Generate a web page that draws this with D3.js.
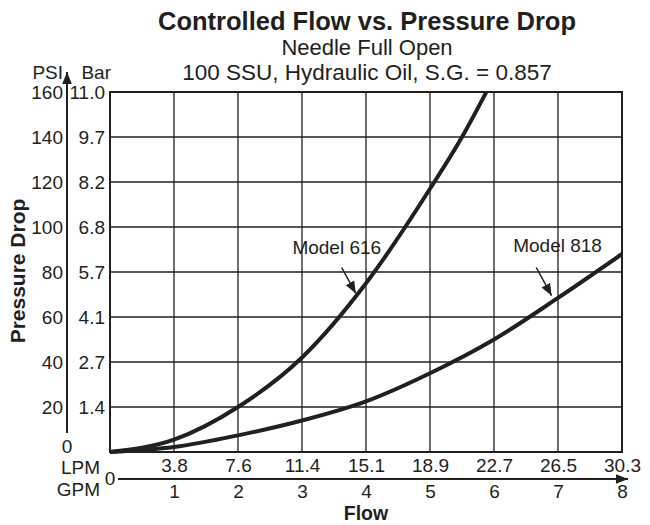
<html>
<head>
<script src="https://d3js.org/d3.v7.min.js"></script>
<style>
  body { margin: 0; padding: 0; background: #fff; }
  text { font-family: "Liberation Sans", Arial, Helvetica, sans-serif; fill: #231f20; }
</style>
</head>
<body>
<script>
// flow in GPM, pressure drop in PSI
var gpmTicks = [1, 2, 3, 4, 5, 6, 7, 8];
var lpmLabels = ["3.8", "7.6", "11.4", "15.1", "18.9", "22.7", "26.5", "30.3"];
var psiTicks = [20, 40, 60, 80, 100, 120, 140, 160];
var barLabels = ["1.4", "2.7", "4.1", "5.7", "6.8", "8.2", "9.7", "11.0"];

var model616Flow = [0, 1, 2, 3, 4, 5, 5.5, 5.88];
var model616Psi  = [0, 5.5, 20, 42, 75, 117, 140, 160];
var model818Flow = [0, 1, 2, 3, 4, 5, 6, 7, 8];
var model818Psi  = [0, 2.2, 7.4, 14, 22.5, 35, 50, 68.5, 88];

var notes = [
  {name: "Model 616", textGpm: 2.85, textPsi: 88, fromGpm: 3.62, fromPsi: 82, toGpm: 3.84, toPsi: 70.5},
  {name: "Model 818", textGpm: 6.3, textPsi: 89, fromGpm: 6.66, fromPsi: 82, toGpm: 6.9, toPsi: 69.5}
];

var width = 650, height = 525;
var fs = "19px";
var svg = d3.select("body").append("svg")
  .attr("width", width).attr("height", height);

var x = d3.scaleLinear().domain([0, 8]).range([110, 622]);
var y = d3.scaleLinear().domain([0, 160]).range([452, 92]);
var ink = "#231f20";

svg.append("defs").append("marker")
  .attr("id", "arr").attr("viewBox", "0 0 10 10")
  .attr("refX", 10).attr("refY", 5)
  .attr("markerWidth", 12).attr("markerHeight", 12)
  .attr("markerUnits", "userSpaceOnUse")
  .attr("orient", "auto")
  .append("path").attr("d", "M0,1L10,5L0,9z").attr("fill", ink);

// titles
svg.append("text").attr("x", 367).attr("y", 30).attr("text-anchor", "middle")
  .style("font-size", "25.5px").style("font-weight", "bold")
  .text("Controlled Flow vs. Pressure Drop");
svg.append("text").attr("x", 367).attr("y", 55).attr("text-anchor", "middle")
  .style("font-size", "22px").text("Needle Full Open");
svg.append("text").attr("x", 367).attr("y", 80).attr("text-anchor", "middle")
  .style("font-size", "22.5px").text("100 SSU, Hydraulic Oil, S.G. = 0.857");

// grid
var grid = svg.append("g").attr("stroke", ink).attr("stroke-width", 1.3);
grid.selectAll(".v").data(gpmTicks.slice(0, 7)).enter().append("line")
  .attr("x1", d => x(d)).attr("x2", d => x(d))
  .attr("y1", y(0)).attr("y2", y(160));
grid.selectAll(".h").data(psiTicks.slice(0, 7)).enter().append("line")
  .attr("x1", x(0)).attr("x2", x(8))
  .attr("y1", d => y(d)).attr("y2", d => y(d));
svg.append("rect").attr("x", x(0)).attr("y", y(160))
  .attr("width", x(8) - x(0)).attr("height", y(0) - y(160))
  .attr("fill", "none").attr("stroke", ink).attr("stroke-width", 2);

// curves
var line = d3.line().x(d => x(d[0])).y(d => y(d[1])).curve(d3.curveMonotoneX);
var curves = [d3.zip(model616Flow, model616Psi), d3.zip(model818Flow, model818Psi)];
svg.selectAll(".curve").data(curves).enter().append("path")
  .attr("d", line).attr("fill", "none")
  .attr("stroke", ink).attr("stroke-width", 4);

// annotations
notes.forEach(function(n) {
  svg.append("text").attr("x", x(n.textGpm)).attr("y", y(n.textPsi))
    .style("font-size", fs).text(n.name);
  svg.append("line")
    .attr("x1", x(n.fromGpm)).attr("y1", y(n.fromPsi))
    .attr("x2", x(n.toGpm)).attr("y2", y(n.toPsi))
    .attr("stroke", ink).attr("stroke-width", 1.5)
    .attr("marker-end", "url(#arr)");
});

function styleTicks(g) {
  g.select(".domain").remove();
  g.selectAll("text").style("font-size", fs).style("font-family", null).attr("fill", ink);
}

// PSI axis (left)
var psiAxis = d3.axisLeft(y).tickValues(psiTicks).tickSize(0).tickPadding(4);
svg.append("g").attr("transform", "translate(67,0)").call(psiAxis).call(styleTicks);
svg.append("line").attr("x1", 67).attr("x2", 67).attr("y1", 433).attr("y2", 72)
  .attr("stroke", ink).attr("stroke-width", 2).attr("marker-end", "url(#arr)");
svg.append("text").attr("x", 67).attr("y", 453).attr("text-anchor", "middle")
  .style("font-size", fs).text("0");
svg.append("text").attr("x", 63).attr("y", 79).attr("text-anchor", "end")
  .style("font-size", fs).text("PSI");
svg.append("text").attr("x", 111).attr("y", 79).attr("text-anchor", "end")
  .style("font-size", fs).text("Bar");

// Bar labels
var barAxis = d3.axisLeft(y).tickValues(psiTicks).tickSize(0).tickPadding(5)
  .tickFormat((d, i) => barLabels[i]);
svg.append("g").attr("transform", "translate(110,0)").call(barAxis).call(styleTicks);

// LPM labels
var lpmAxis = d3.axisBottom(x).tickValues(gpmTicks).tickSize(0).tickPadding(7)
  .tickFormat((d, i) => lpmLabels[i]);
svg.append("g").attr("transform", "translate(0,452)").call(lpmAxis).call(styleTicks);
svg.append("text").attr("x", 100).attr("y", 474).attr("text-anchor", "end")
  .style("font-size", fs).text("LPM");

// GPM axis
svg.append("line").attr("x1", 118).attr("x2", 628).attr("y1", 479).attr("y2", 479)
  .attr("stroke", ink).attr("stroke-width", 2).attr("marker-end", "url(#arr)");
var gpmAxis = d3.axisBottom(x).tickValues(gpmTicks).tickSize(0).tickPadding(6)
  .tickFormat(d3.format("d"));
svg.append("g").attr("transform", "translate(0,479)").call(gpmAxis).call(styleTicks);
svg.append("text").attr("x", 110).attr("y", 485).attr("text-anchor", "middle")
  .style("font-size", fs).text("0");
svg.append("text").attr("x", 100).attr("y", 496).attr("text-anchor", "end")
  .style("font-size", fs).text("GPM");

// axis titles
svg.append("text").attr("x", 366).attr("y", 520).attr("text-anchor", "middle")
  .style("font-size", "19.5px").style("font-weight", "bold").text("Flow");
svg.append("text").attr("transform", "translate(25,271) rotate(-90)")
  .attr("text-anchor", "middle")
  .style("font-size", "21px").style("font-weight", "bold").text("Pressure Drop");
</script>
</body>
</html>
